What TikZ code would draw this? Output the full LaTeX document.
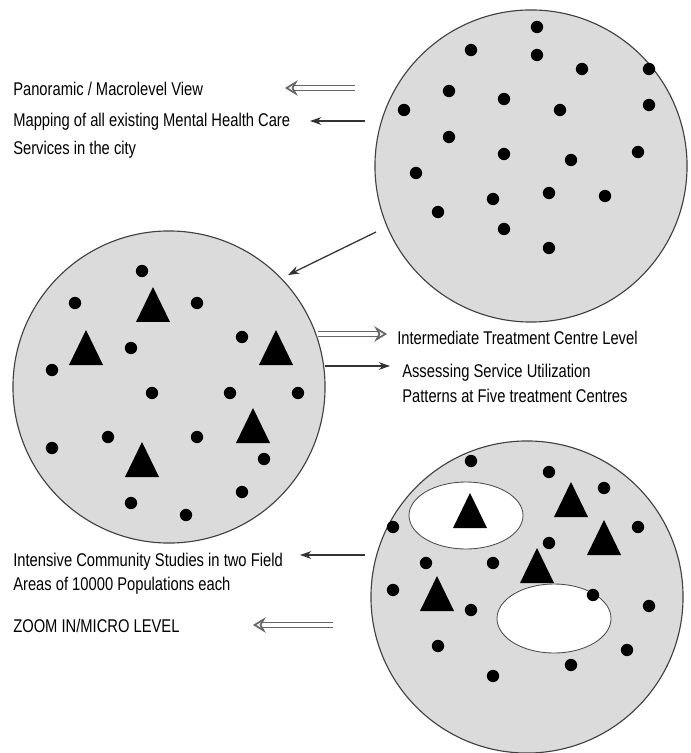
\documentclass[tikz,border=0pt]{standalone}
\usepackage{fontspec}
\setmainfont[FakeStretch=0.8]{Liberation Sans}
\usetikzlibrary{arrows.meta}
\def\spot(#1,#2){\fill[black] (#1,#2) circle (4.4pt)}
\def\tri(#1,#2){\fill[black] (#1-17,#2+35) -- (#1,#2) -- (#1+17,#2+35) -- cycle}

\begin{document}
\begin{tikzpicture}[x=0.025cm, y=-0.025cm,
	disc/.style={circle, draw=black!75, line width=0.8pt, fill=black!14, minimum size=7.8cm, inner sep=0pt},
	patch/.style={draw=black!70, line width=0.6pt, fill=white},
	lbl/.style={anchor=base west, align=left, inner sep=0pt, font=\fontsize{13.1}{20}\selectfont},
	thinarrow/.style={draw=black!80, line width=0.9pt, -{Stealth[length=8pt, width=5.5pt]}},
	hollowarrow/.style={draw=black!60, double=white, double distance=2.2pt, line width=1.2pt, -{Stealth[open, length=9pt, width=11pt, inset=3pt]}}]
			%%%%% START %%%%%
			
			\useasboundingbox (0,0) rectangle (690,753);
			
			\node[disc] (macro) at (531,166) {};
			\node[disc] (meso) at (169,387) {};
			\node[disc] (micro) at (527,597) {};
			
			\draw[patch] (466,515.5) ellipse [x radius=57, y radius=33.5];
			\draw[patch] (554,618.5) ellipse [x radius=57, y radius=34.5];
			
			% macro level
			\spot(537,27);
			\spot(471,50);
			\spot(537,55);
			\spot(582,69);
			\spot(649,69);
			\spot(449,91);
			\spot(504,99);
			\spot(404,110);
			\spot(560,110);
			\spot(649,105);
			\spot(449,137);
			\spot(504,154);
			\spot(571,160);
			\spot(638,152);
			\spot(416,173);
			\spot(549,193);
			\spot(605,196);
			\spot(493,199);
			\spot(438,212);
			\spot(504,229);
			\spot(549,248);
			
			% treatment centre level
			\spot(142,271);
			\spot(75,303);
			\spot(197,303);
			\spot(242,337);
			\spot(131,348);
			\spot(52,370);
			\spot(152,393);
			\spot(230,393);
			\spot(298,393);
			\spot(108,437);
			\spot(197,437);
			\spot(52,448);
			\spot(264,459);
			\spot(242,492);
			\spot(131,503);
			\spot(186,515);
			\tri(153,287);
			\tri(86,330);
			\tri(276,330);
			\tri(253,408);
			\tri(142,442);
			
			% micro level
			\spot(471,461);
			\spot(549,472);
			\spot(604,488);
			\spot(393,527);
			\spot(638,527);
			\spot(549,543);
			\spot(426,563);
			\spot(493,563);
			\spot(393,590);
			\spot(593,595);
			\spot(649,606);
			\spot(471,610);
			\spot(438,646);
			\spot(627,650);
			\spot(571,665);
			\spot(493,676);
			\tri(470,493);
			\tri(571,482);
			\tri(604,520);
			\tri(537,548);
			\tri(437,576);
			
			% texts (base = last line)
			\node[lbl] (view) at (13,96) {Panoramic / Macrolevel View};
			\node[lbl] (mapping) at (13,155) {Mapping of all existing Mental Health Care\\Services in the city};
			\node[lbl] (centre) at (397,345) {Intermediate Treatment Centre Level};
			\node[lbl, font=\fontsize{13.1}{17.3}\selectfont] (assess) at (402,402) {Assessing Service Utilization\\Patterns at Five treatment Centres};
			\node[lbl, font=\fontsize{13.1}{17}\selectfont] (field) at (13,590) {Intensive Community Studies in two Field\\Areas of 10000 Populations each};
			\node[lbl] (zoom) at (13,632) {ZOOM IN/MICRO LEVEL};
			
			% arrows
			\coordinate (h1a) at (355,88);
			\coordinate (h1b) at (285,88);
			\coordinate (s1a) at (365,121);
			\coordinate (s1b) at (310,121);
			\coordinate (da) at (376,232);
			\coordinate (db) at (288,275);
			\coordinate (h2a) at (318,334);
			\coordinate (h2b) at (387,334);
			\coordinate (s2a) at (325,366);
			\coordinate (s2b) at (390,366);
			\coordinate (s3a) at (365,555);
			\coordinate (s3b) at (300,555);
			\coordinate (h3a) at (333,625);
			\coordinate (h3b) at (253,625);
			
			\draw[hollowarrow] (h1a) -- (h1b);
			\draw[thinarrow] (s1a) -- (s1b);
			\draw[thinarrow] (da) -- (db);
			\draw[hollowarrow] (h2a) -- (h2b);
			\draw[thinarrow] (s2a) -- (s2b);
			\draw[thinarrow] (s3a) -- (s3b);
			\draw[hollowarrow] (h3a) -- (h3b);
			
			%%%%% END %%%%%
\end{tikzpicture}
\end{document}
